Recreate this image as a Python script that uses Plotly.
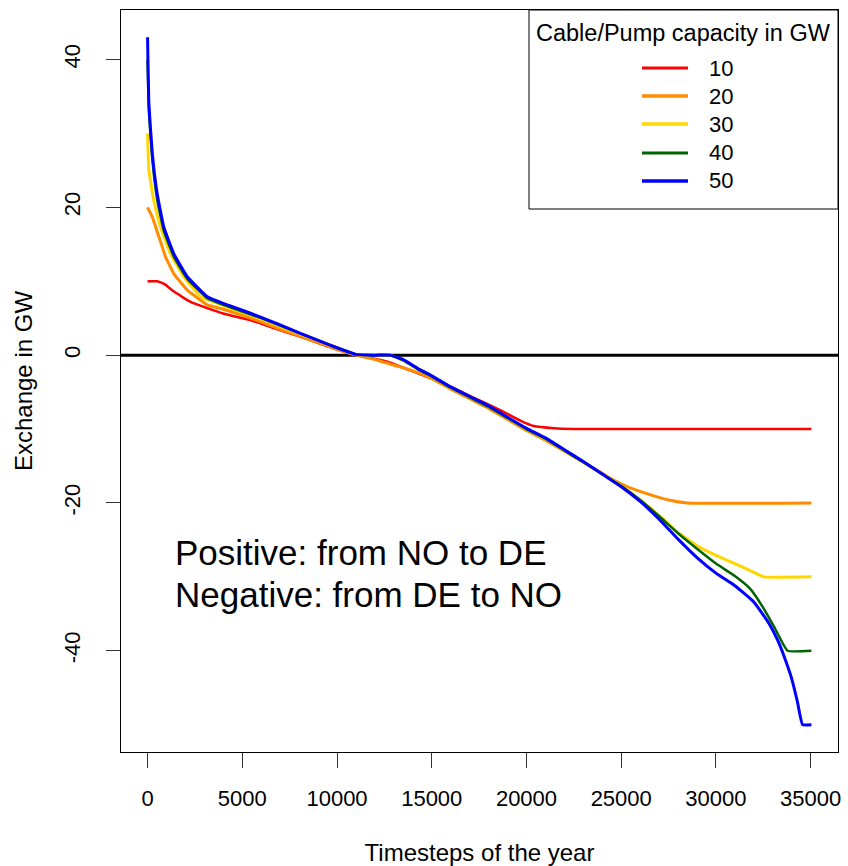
import plotly.graph_objects as go

# ---- data ----
capacities = ["10", "20", "30", "40", "50"]
colors = ["#FF0000", "#FF8C00", "#FFD700", "#006400", "#0000FF"]

x_10 = [0, 510, 900, 1390, 2270, 3000, 4030, 5440, 6500, 8080, 9830, 11070, 12650, 14000,
        15500, 17000, 18500, 19700, 20380, 21450, 22500, 35040]
y_10 = [10, 10, 9.6, 8.6, 7.2, 6.5, 5.6, 4.73, 3.8, 2.47, 0.9, 0, -0.9, -2.2,
        -3.7, -5.5, -7.3, -8.9, -9.6, -9.9, -10, -10]

x_20 = [0, 250, 600, 950, 1390, 2100, 3150, 4000, 5000, 6000, 7000, 8000, 9000, 10000, 11000,
        12000, 12800, 13500, 14400, 15000, 16000, 17000, 18000, 19000, 20000, 21000, 22000,
        23000, 24000, 24600, 25500, 26560, 27500, 28500, 35040]
y_20 = [20, 18.7, 16, 13.3, 11, 8.8, 6.8, 6.2, 5.4, 4.5, 3.5, 2.6, 1.7, 0.8, 0.0,
        -0.6, -1.2, -1.7, -2.5, -3.2, -4.6, -5.9, -7.2, -8.7, -10.2, -11.5, -13.0,
        -14.5, -16.0, -16.9, -18.0, -18.9, -19.6, -20, -20]

x_30 = [0, 70, 330, 690, 1215, 1920, 2800, 3500, 4000, 5000, 6000, 7000, 8000, 9000, 10000,
        11000, 12000, 12800, 13500, 14400, 15000, 16000, 17000, 18000, 19000, 20000, 21000,
        22000, 23000, 24000, 25000, 26000, 27000, 28000, 29000, 30000, 31000, 32000, 32520, 35040]
y_30 = [30, 25, 20.9, 17.3, 13.7, 10.6, 7.9, 7.2, 6.7, 5.8, 4.9, 3.9, 2.9, 2.0, 1.0,
        0.1, 0, 0, -0.7, -2.1, -2.9, -4.4, -5.7, -7.0, -8.5, -10.0, -11.3,
        -12.9, -14.5, -16.1, -17.7, -19.6, -21.7, -24.0, -25.8, -27.1, -28.2, -29.4, -30, -30]

x_40 = [0, 70, 250, 510, 860, 1390, 2100, 3150, 4000, 5000, 6000, 7000, 8000, 9000, 10000,
        11000, 12000, 12800, 13500, 14400, 15000, 16000, 17000, 18000, 19000, 20000, 21000,
        22000, 23000, 24000, 25000, 26000, 27000, 28000, 29000, 30000, 31000, 31800, 32500,
        33100, 33776, 35040]
y_40 = [40, 33, 26.5, 21, 16.8, 13.3, 10.3, 7.7, 6.8, 5.9, 5.0, 4.0, 3.0, 2.0, 1.0,
        0.1, 0, 0, -0.7, -2.1, -2.9, -4.4, -5.7, -7.0, -8.5, -10.0, -11.3,
        -12.9, -14.5, -16.1, -17.7, -19.6, -21.8, -24.1, -26.2, -28.2, -29.9, -31.6, -34.2,
        -36.9, -40, -40]

x_50 = [0, 70, 250, 510, 860, 1390, 2100, 3150, 4000, 5000, 6000, 7000, 8000, 9000, 10000,
        11000, 12000, 12800, 13500, 14400, 15000, 16000, 17000, 18000, 19000, 20000, 21000,
        22000, 23000, 24000, 25000, 26000, 27000, 28000, 29000, 30000, 31000, 32000, 32800,
        33300, 33700, 34000, 34300, 34570, 35040]
y_50 = [43, 34, 27.3, 21.8, 17.3, 13.7, 10.6, 7.9, 7.0, 6.1, 5.1, 4.1, 3.0, 2.0, 1.0,
        0.1, 0, 0, -0.6, -2.0, -2.8, -4.3, -5.6, -6.85, -8.4, -9.9, -11.2,
        -12.8, -14.4, -16.1, -17.8, -19.8, -22.2, -24.9, -27.4, -29.5, -31.2, -33.4, -36.3,
        -38.8, -41.5, -43.8, -46.9, -50, -50]

xs = [x_10, x_20, x_30, x_40, x_50]
ys = [y_10, y_20, y_30, y_40, y_50]
widths = [2.5, 3, 3, 2.5, 3]

x_ticks = [0, 5000, 10000, 15000, 20000, 25000, 30000, 35000]
y_ticks = [-40, -20, 0, 20, 40]

x_title = "Timesteps of the year"
y_title = "Exchange in GW"
legend_title = "Cable/Pump capacity in GW"
note_lines = ["Positive: from NO to DE", "Negative: from DE to NO"]

# ---- layout geometry (pixels) ----
W, H = 848, 866
L, R, T, B = 121, 838, 10, 752
FONT = "Liberation Sans, Arial, sans-serif"


def px(xp):
    return (xp - L) / (R - L)


def py(yp):
    return (B - yp) / (B - T)


fig = go.Figure()
for name, xv, yv, c, w in zip(capacities, xs, ys, colors, widths):
    fig.add_trace(go.Scatter(x=xv, y=yv, mode="lines", name=name,
                             line=dict(color=c, width=w, shape="spline", smoothing=0.35),
                             showlegend=False))

shapes = []
# horizontal zero line (abline)
shapes.append(dict(type="line", xref="paper", yref="y", x0=0, x1=1, y0=0, y1=0,
                   line=dict(color="black", width=3), layer="below"))
# legend box
shapes.append(dict(type="rect", xref="paper", yref="paper", x0=px(529), x1=px(838),
                   y0=py(209), y1=py(10), line=dict(color="black", width=1),
                   fillcolor="white", layer="above"))
annotations = []
annotations.append(dict(xref="paper", yref="paper", x=px(683.5), y=py(33), text=legend_title,
                        showarrow=False, xanchor="center", yanchor="middle",
                        font=dict(family=FONT, size=23.5, color="black")))
entry_y = [68, 96, 124, 153, 181]
for name, c, w, ey in zip(capacities, colors, widths, entry_y):
    shapes.append(dict(type="line", xref="paper", yref="paper", x0=px(642), x1=px(688),
                       y0=py(ey), y1=py(ey), line=dict(color=c, width=w + 0.5), layer="above"))
    annotations.append(dict(xref="paper", yref="paper", x=px(707), y=py(ey), text=name,
                            showarrow=False, xanchor="left", yanchor="middle",
                            font=dict(family=FONT, size=22, color="black")))
for line, ny in zip(note_lines, [552, 594]):
    annotations.append(dict(xref="paper", yref="paper", x=px(173), y=py(ny), text=line,
                            showarrow=False, xanchor="left", yanchor="middle",
                            font=dict(family=FONT, size=35, color="black")))

fig.update_layout(
    width=W, height=H,
    margin=dict(l=L, r=W - R, t=T, b=H - B, autoexpand=False),
    paper_bgcolor="white", plot_bgcolor="white",
    font=dict(family=FONT, size=22, color="black"),
    shapes=shapes, annotations=annotations,
    showlegend=False,
)
fig.update_xaxes(range=[-1402, 36442], tickvals=x_ticks, ticktext=[str(v) for v in x_ticks],
                 ticks="outside", ticklen=15, tickwidth=1, tickcolor="#333",
                 showline=True, mirror=True, linecolor="black", linewidth=1,
                 showgrid=False, zeroline=False, automargin=False,
                 tickfont=dict(family=FONT, size=22), ticklabelstandoff=12,
                 title=dict(text=x_title, font=dict(family=FONT, size=24), standoff=36))
fig.update_yaxes(range=[-53.7, 46.7], tickvals=y_ticks, ticktext=[str(v) for v in y_ticks],
                 ticks="outside", ticklen=14, tickwidth=1, tickcolor="#333", tickangle=-90,
                 showline=True, mirror=True, linecolor="black", linewidth=1,
                 showgrid=False, zeroline=False, automargin=False,
                 tickfont=dict(family=FONT, size=22), ticklabelstandoff=17,
                 title=dict(text=y_title, font=dict(family=FONT, size=24), standoff=20))

fig.write_html("out.html", config={"displayModeBar": False})

# remove the browser's default page margin so the figure sits at the window's corner
with open("out.html", "r", encoding="utf-8") as f:
    html = f.read()
html = html.replace("<head>", "<head><style>html,body{margin:0;padding:0;overflow:hidden;}</style>", 1)
with open("out.html", "w", encoding="utf-8") as f:
    f.write(html)
